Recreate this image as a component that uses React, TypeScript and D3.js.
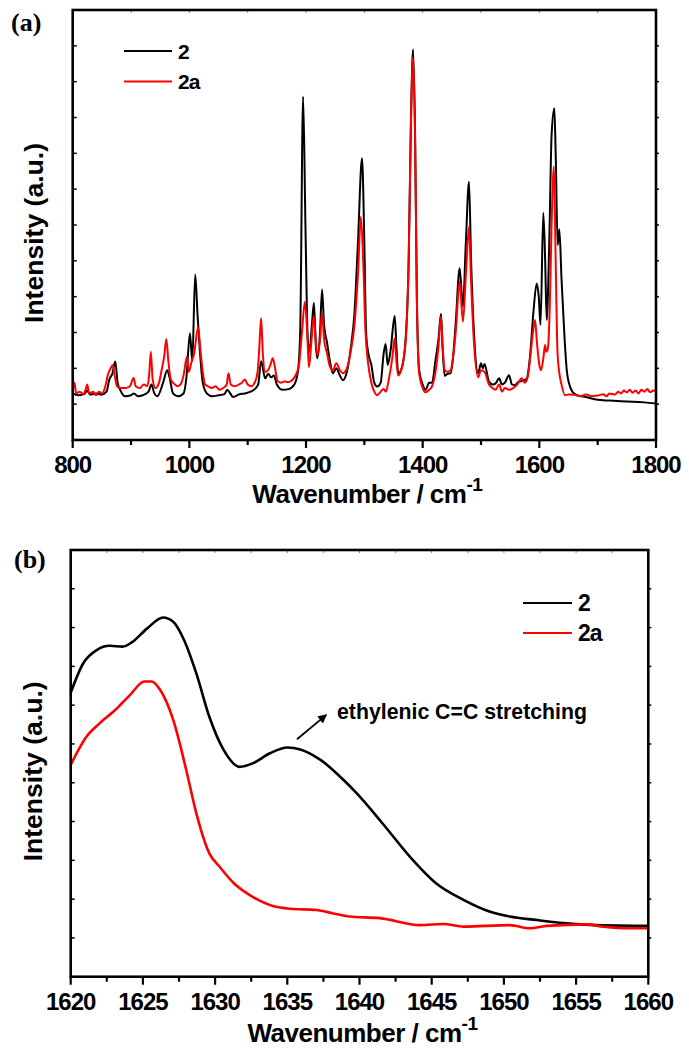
import React from "react";
import * as d3 from "d3";

// ---------- Panel (a) data: Raman spectra 800–1800 cm-1 ----------
const specA_2: [number, number][] = [
  [800, 1.3], [810, 1.25], [820, 1.28], [825, 1.38], [830, 1.27], [840, 1.3], [850, 1.27], [858, 1.35],
  [863, 1.7], [868, 1.85], [873, 2.19], [877, 1.6], [882, 1.38], [890, 1.22], [900, 1.25], [905, 1.3],
  [912, 1.22], [920, 1.25], [930, 1.35], [935, 1.55], [940, 1.3], [945, 1.22], [955, 1.6], [962, 1.95],
  [966, 1.75], [972, 1.3], [980, 1.22], [990, 1.3], [995, 1.75], [1001, 2.98], [1005, 2.2], [1010, 4.62],
  [1014, 3.5], [1018, 2.5], [1023, 1.6], [1030, 1.3], [1040, 1.22], [1050, 1.25], [1060, 1.28], [1065, 1.4],
  [1070, 1.3], [1075, 1.2], [1085, 1.27], [1095, 1.3], [1105, 1.35], [1112, 1.42], [1118, 1.55], [1123, 2.2],
  [1130, 1.72], [1135, 1.85], [1140, 1.75], [1145, 1.8], [1150, 1.55], [1160, 1.4], [1170, 1.42], [1180, 1.55],
  [1186, 1.9], [1190, 3.0], [1195, 9.58], [1199, 6.0], [1203, 2.8], [1206, 2.46], [1210, 3.2], [1213.5, 3.83],
  [1217, 2.6], [1219.5, 2.28], [1224, 3.0], [1227.5, 4.2], [1231, 3.2], [1236, 2.72], [1241, 2.2], [1246, 1.86],
  [1252, 2.0], [1258, 1.8], [1263, 1.67], [1270, 1.9], [1277, 2.6], [1283, 3.53], [1289, 5.5], [1296, 7.86],
  [1300, 5.5], [1303, 3.0], [1307, 2.4], [1312, 2.1], [1317, 1.6], [1322, 1.49], [1328, 1.6], [1333, 2.4],
  [1336.5, 2.68], [1340, 2.09], [1345, 2.5], [1352, 3.46], [1355, 2.6], [1358, 1.86], [1364, 2.0], [1371, 2.88],
  [1376, 5.0], [1380, 9.0], [1383.5, 10.9], [1387, 8.5], [1390, 4.0], [1394, 1.95], [1400, 1.55], [1405, 1.4],
  [1411, 1.6], [1416, 1.6], [1422, 2.23], [1427, 2.8], [1431.4, 3.52], [1434, 2.6], [1437.7, 1.79], [1443, 1.85],
  [1448, 1.86], [1452, 2.3], [1456.6, 3.26], [1463.4, 4.79], [1469, 3.72], [1474, 5.5], [1479.4, 7.21], [1483, 5.0],
  [1488, 2.98], [1495, 1.86], [1500, 2.14], [1503, 2.0], [1506, 2.12], [1513.7, 1.63], [1520, 1.55], [1525, 1.58],
  [1531, 1.72], [1536, 1.55], [1541, 1.6], [1548, 1.81], [1553, 1.55], [1558, 1.53], [1564, 1.62], [1570, 1.65],
  [1578, 1.7], [1584, 2.33], [1590, 3.6], [1595.5, 4.37], [1599, 4.0], [1602, 3.21], [1606.8, 6.34], [1610, 5.0],
  [1612.6, 3.35], [1617, 5.5], [1621, 8.51], [1625.7, 9.26], [1628, 8.0], [1631.5, 5.44], [1634.3, 5.88], [1638, 4.5],
  [1643.4, 2.79], [1647, 1.95], [1652.6, 1.49], [1658, 1.32], [1665, 1.25], [1680, 1.2], [1700, 1.12], [1720, 1.1],
  [1740, 1.08], [1760, 1.07], [1780, 1.05], [1800, 1.02],
];

const specA_2a: [number, number][] = [
  [800, 1.35], [803, 1.6], [806, 1.3], [812, 1.35], [818, 1.28], [822, 1.4], [825, 1.55], [828, 1.3],
  [835, 1.35], [840, 1.25], [845, 1.35], [850, 1.3], [856, 1.5], [860, 1.8], [865, 2.0], [868.6, 2.09],
  [872, 1.8], [876, 1.5], [882, 1.45], [890, 1.45], [898, 1.5], [904.5, 1.73], [908, 1.5], [915, 1.45],
  [922, 1.55], [928, 1.5], [931, 1.8], [934, 2.46], [937, 1.7], [942, 1.45], [948, 1.6], [953, 2.0],
  [957, 2.35], [960.5, 2.82], [964, 2.2], [968, 1.7], [975, 1.55], [980, 1.5], [985, 1.55], [990, 1.8],
  [996, 2.33], [999, 1.9], [1004, 2.2], [1008, 2.4], [1015, 3.15], [1019, 2.5], [1023, 1.9], [1027, 1.55],
  [1032, 1.5], [1038, 1.45], [1045, 1.5], [1052, 1.4], [1058, 1.45], [1064, 1.55], [1067, 1.86], [1071, 1.55],
  [1078, 1.5], [1085, 1.55], [1090, 1.6], [1095, 1.69], [1100, 1.55], [1106, 1.5], [1112, 1.6], [1117, 1.9],
  [1120, 2.6], [1123, 3.4], [1126, 2.4], [1130, 1.9], [1135, 1.95], [1139, 2.1], [1143, 2.28], [1147, 2.0],
  [1151, 1.65], [1157, 1.6], [1163, 1.63], [1170, 1.62], [1177, 1.68], [1182, 1.8], [1188, 2.1], [1193, 3.0],
  [1198, 3.86], [1202, 3.0], [1205, 2.03], [1209, 2.7], [1213.5, 3.46], [1217, 2.7], [1219.5, 2.37], [1224, 2.8],
  [1227.5, 3.55], [1231, 2.8], [1236, 2.42], [1241, 2.05], [1246, 1.95], [1252, 2.14], [1258, 1.95], [1263, 1.86],
  [1270, 2.0], [1277, 2.5], [1283, 3.2], [1289, 4.6], [1294, 6.23], [1298, 5.0], [1302, 3.0], [1306, 2.2],
  [1312, 1.6], [1317, 1.35], [1322, 1.25], [1328, 1.35], [1333, 1.42], [1337, 1.35], [1342, 1.7], [1348, 2.3],
  [1352, 2.84], [1355, 2.2], [1358, 1.8], [1364, 2.0], [1371, 2.8], [1376, 5.0], [1380, 9.0], [1383.5, 10.68],
  [1387, 8.4], [1390, 4.0], [1394, 1.85], [1400, 1.45], [1405, 1.33], [1411, 1.4], [1416, 1.5], [1422, 1.9],
  [1427, 2.6], [1431.4, 3.44], [1434, 2.7], [1437.7, 1.95], [1443, 1.9], [1448, 1.95], [1452, 2.3], [1456.6, 3.0],
  [1463.4, 4.42], [1469, 3.3], [1474, 4.6], [1479.4, 5.95], [1483, 4.4], [1488, 2.7], [1495, 1.75], [1500, 1.95],
  [1506, 1.9], [1513.7, 1.55], [1520, 1.45], [1525, 1.4], [1531, 1.55], [1536, 1.35], [1541, 1.45], [1548, 1.4],
  [1555, 1.45], [1562, 1.55], [1569.7, 1.72], [1575, 1.6], [1580, 1.75], [1585, 2.4], [1589, 3.0], [1592.6, 3.35],
  [1596, 2.7], [1600, 2.1], [1603, 1.95], [1607, 2.3], [1609.7, 2.65], [1612, 2.46], [1615, 2.6], [1618, 3.8],
  [1621, 6.0], [1625, 7.63], [1628, 5.0], [1631, 2.5], [1634, 1.9], [1638, 1.55], [1644, 1.25], [1650, 1.27],
  [1660, 1.26], [1670, 1.22], [1680, 1.27], [1690, 1.22], [1700, 1.24], [1710, 1.28], [1715, 1.22], [1720, 1.3],
  [1730, 1.27], [1735, 1.35], [1740, 1.3], [1745, 1.38], [1750, 1.33], [1755, 1.4], [1760, 1.32], [1765, 1.38],
  [1770, 1.3], [1775, 1.4], [1780, 1.35], [1785, 1.42], [1790, 1.33], [1795, 1.38], [1800, 1.37],
];

// ---------- Panel (b) data: 1620–1660 cm-1 ----------
const specB_2: [number, number][] = [
  [1620, 7.32], [1620.87, 8.08], [1621.8, 8.42], [1622.7, 8.53], [1623.6, 8.51], [1624.2, 8.61], [1625.3, 8.98],
  [1626.4, 9.26], [1627.1, 9.15], [1627.8, 8.72], [1628.7, 7.82], [1629.6, 6.7], [1630.6, 5.84], [1631.7, 5.41],
  [1632.6, 5.5], [1633.8, 5.76], [1635.0, 5.91], [1635.9, 5.86], [1637.3, 5.59], [1638.9, 5.07], [1639.8, 4.73],
  [1641.6, 3.95], [1643.5, 3.09], [1645.3, 2.41], [1647.2, 1.98], [1649.0, 1.68], [1650.4, 1.55], [1652.3, 1.46],
  [1654.1, 1.38], [1656.4, 1.33], [1660, 1.31],
];

const specB_2a: [number, number][] = [
  [1620, 5.46], [1621.1, 6.19], [1622.0, 6.53], [1623.1, 6.88], [1624.1, 7.26], [1625.1, 7.61], [1625.6, 7.61],
  [1626.2, 7.39], [1627.1, 6.62], [1628.0, 5.33], [1628.7, 4.21], [1629.6, 3.18], [1630.3, 2.84], [1631.3, 2.41],
  [1632.6, 2.06], [1634.0, 1.82], [1635.2, 1.75], [1637.0, 1.72], [1638.2, 1.63], [1639.3, 1.55], [1641.4, 1.51],
  [1644.2, 1.33], [1645.8, 1.36], [1647.2, 1.29], [1650.4, 1.33], [1651.8, 1.25], [1653.0, 1.31], [1655.7, 1.35],
  [1656.9, 1.29], [1658.7, 1.25], [1660, 1.25],
];

const ticksA_major = [800, 1000, 1200, 1400, 1600, 1800];
const ticksA_minor = [900, 1100, 1300, 1500, 1700];
const ticksB_major = [1620, 1625, 1630, 1635, 1640, 1645, 1650, 1655, 1660];
const ticksB_minor = [1622.5, 1627.5, 1632.5, 1637.5, 1642.5, 1647.5, 1652.5, 1657.5];
const seriesNames = ["2", "2a"];
const seriesColors = ["#000000", "#ff0000"];

const FONT = "'Liberation Sans', Arial, sans-serif";
const SERIF = "'Liberation Serif', 'Times New Roman', serif";

type PanelProps = {
  label: string;
  xDomain: [number, number];
  xRange: [number, number];
  yDomain: [number, number];
  yRange: [number, number];
  series: [number, number][][];
  major: number[];
  minor: number[];
  topTicks: number[];
  lineWidth: number;
  legend: { x1: number; x2: number; y: number; gap: number; fs: number };
  labelPos: [number, number];
  tickLabelDy: number;
  xTitleY: number;
  yTitleX: number;
  curve: any;
};

function Panel(p: PanelProps) {
  const x = d3.scaleLinear().domain(p.xDomain).range(p.xRange);
  const y = d3.scaleLinear().domain(p.yDomain).range(p.yRange);
  const line = d3
    .line<[number, number]>()
    .x((d) => x(d[0]))
    .y((d) => y(d[1]))
    .curve(p.curve);
  const [x0, x1] = p.xRange;
  const [yb, yt] = p.yRange;
  const yTicks = d3.range(p.yDomain[0] + 1, p.yDomain[1], 1);
  const cx = (x0 + x1) / 2;
  const cy = (yb + yt) / 2;
  return (
    <g>
      <defs>
        <clipPath id={"clip" + p.label}>
          <rect x={x0} y={yt} width={x1 - x0} height={yb - yt} />
        </clipPath>
      </defs>
      <g clipPath={`url(#clip${p.label})`}>
        {p.series.map((s, i) => (
          <path key={i} d={line(s) || ""} fill="none" stroke={seriesColors[i]} strokeWidth={p.lineWidth} strokeLinejoin="round" />
        ))}
      </g>
      {yTicks.map((t) => (
        <g key={"y" + t}>
          <line x1={x0} x2={x0 + 4} y1={y(t)} y2={y(t)} stroke="#000" strokeWidth={1.5} />
          <line x1={x1} x2={x1 + 3} y1={y(t)} y2={y(t)} stroke="#000" strokeWidth={1.5} />
        </g>
      ))}
      {p.topTicks.map((t) => (
        <line key={"t" + t} x1={x(t)} x2={x(t)} y1={yt} y2={yt + 3} stroke="#888" strokeWidth={1} />
      ))}
      {p.major.map((t) => (
        <line key={"M" + t} x1={x(t)} x2={x(t)} y1={yb} y2={yb + 8} stroke="#000" strokeWidth={2.2} />
      ))}
      {p.minor.map((t) => (
        <line key={"m" + t} x1={x(t)} x2={x(t)} y1={yb} y2={yb + 5} stroke="#000" strokeWidth={2.2} />
      ))}
      <rect x={x0} y={yt} width={x1 - x0} height={yb - yt} fill="none" stroke="#000" strokeWidth={2.6} />
      {p.major.map((t) => (
        <text key={"L" + t} x={x(t)} y={yb + p.tickLabelDy} textAnchor="middle" fontFamily={FONT} fontWeight="bold" fontSize={24} letterSpacing={-1}>
          {t}
        </text>
      ))}
      <text x={cx + 3} y={p.xTitleY} textAnchor="middle" fontFamily={FONT} fontWeight="bold" fontSize={26} letterSpacing={-0.5}>
        Wavenumber / cm<tspan fontSize={19} dy={-12}>-1</tspan>
      </text>
      <text
        transform={`translate(${p.yTitleX},${cy + 8}) rotate(-90)`}
        textAnchor="middle"
        fontFamily={FONT}
        fontWeight="bold"
        fontSize={25}
        textLength={180}
        lengthAdjust="spacingAndGlyphs"
      >
        Intensity (a.u.)
      </text>
      <text x={p.labelPos[0]} y={p.labelPos[1]} fontFamily={SERIF} fontWeight="bold" fontSize={26}>
        {p.label}
      </text>
      {seriesNames.map((n, i) => (
        <g key={n}>
          <line x1={p.legend.x1} x2={p.legend.x2} y1={p.legend.y + i * p.legend.gap} y2={p.legend.y + i * p.legend.gap} stroke={seriesColors[i]} strokeWidth={2.2} />
          <text x={p.legend.x2 + 6} y={p.legend.y + i * p.legend.gap + p.legend.fs * 0.36} fontFamily={FONT} fontWeight="bold" fontSize={p.legend.fs} letterSpacing={-1}>
            {n}
          </text>
        </g>
      ))}
    </g>
  );
}

export default function App() {
  const xB = d3.scaleLinear().domain([1620, 1660]).range([70.7, 648.3]);
  const yB = d3.scaleLinear().domain([0, 11]).range([976.7, 550]);
  const arrowFrom: [number, number] = [1635.67, 6.12];
  const arrowTo: [number, number] = [1637.7, 6.75];
  return (
    <svg width={689} height={1052} style={{ position: "absolute", left: 0, top: 0, background: "#fff" }}>
      <rect x={0} y={0} width={689} height={1052} fill="#fff" />
      <Panel
        label="(a)"
        xDomain={[800, 1800]}
        xRange={[72.7, 656]}
        yDomain={[0, 12]}
        yRange={[440, 10]}
        series={[specA_2, specA_2a]}
        major={ticksA_major}
        minor={ticksA_minor}
        topTicks={[...ticksA_major, ...ticksA_minor]}
        lineWidth={2}
        legend={{ x1: 124, x2: 172, y: 51, gap: 30.5, fs: 21 }}
        labelPos={[11, 31]}
        tickLabelDy={33}
        xTitleY={503}
        yTitleX={43}
        curve={d3.curveMonotoneX}
      />
      <Panel
        label="(b)"
        xDomain={[1620, 1660]}
        xRange={[70.7, 648.3]}
        yDomain={[0, 11]}
        yRange={[976.7, 550]}
        series={[specB_2, specB_2a]}
        major={ticksB_major}
        minor={ticksB_minor}
        topTicks={[...ticksB_major, ...ticksB_minor]}
        lineWidth={2.6}
        legend={{ x1: 523, x2: 572, y: 603, gap: 30, fs: 23 }}
        labelPos={[14, 568]}
        tickLabelDy={33}
        xTitleY={1042}
        yTitleX={42}
        curve={d3.curveMonotoneX}
      />
      <defs>
        <marker id="arrowhead" viewBox="0 0 10 10" refX="9" refY="5" markerWidth="5" markerHeight="5" orient="auto">
          <path d="M0,0 L10,5 L0,10 z" fill="#000" />
        </marker>
      </defs>
      <line
        x1={xB(arrowFrom[0])}
        y1={yB(arrowFrom[1])}
        x2={xB(arrowTo[0])}
        y2={yB(arrowTo[1])}
        stroke="#000"
        strokeWidth={1.8}
        markerEnd="url(#arrowhead)"
      />
      <text x={337} y={719} fontFamily={FONT} fontWeight="bold" fontSize={21.5} textLength={250} lengthAdjust="spacingAndGlyphs">
        ethylenic C=C stretching
      </text>
    </svg>
  );
}
